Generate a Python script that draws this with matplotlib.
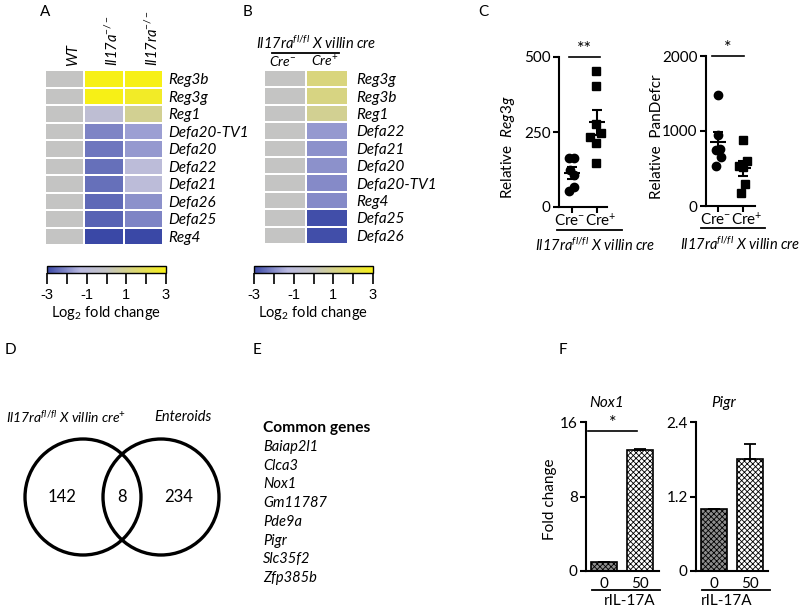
import numpy as np
import matplotlib
matplotlib.use('Agg')
import matplotlib.pyplot as plt
from matplotlib.colors import LinearSegmentedColormap
from matplotlib.patches import Circle
from matplotlib.lines import Line2D

plt.rcParams['font.family'] = ['Lato', 'DejaVu Sans']
plt.rcParams['mathtext.fontset'] = 'custom'
plt.rcParams['mathtext.rm'] = 'Lato'
plt.rcParams['mathtext.it'] = 'Lato:italic'
plt.rcParams['mathtext.bf'] = 'Lato:bold'
plt.rcParams['hatch.linewidth'] = 0.6

# ---- data ----
# A: log2 fold change heatmap
genes_a = ['Reg3b', 'Reg3g', 'Reg1', 'Defa20-TV1', 'Defa20', 'Defa22', 'Defa21', 'Defa26', 'Defa25', 'Reg4']
cols_a = ['WT', r'Il17a$^{-/-}$', r'Il17ra$^{-/-}$']
wt_a = [0, 0, 0, 0, 0, 0, 0, 0, 0, 0]
il17a_a = [3.0, 3.0, -0.7, -2.1, -2.3, -2.4, -2.4, -2.5, -2.6, -3.0]
il17ra_a = [3.0, 2.7, 0.9, -1.7, -1.8, -1.0, -1.0, -1.9, -2.1, -3.0]

# B: log2 fold change heatmap
genes_b = ['Reg3g', 'Reg3b', 'Reg1', 'Defa22', 'Defa21', 'Defa20', 'Defa20-TV1', 'Reg4', 'Defa25', 'Defa26']
cols_b = [r'Cre$^{-}$', r'Cre$^{+}$']
creneg_b = [0, 0, 0, 0, 0, 0, 0, 0, 0, 0]
crepos_b = [1.3, 1.2, 0.9, -1.8, -1.9, -1.9, -2.0, -2.0, -2.9, -2.9]

# C: relative expression, individual mice
reg3g_neg = [165, 162, 125, 106, 67, 54]
reg3g_pos = [454, 404, 277, 246, 232, 212, 147]
pandef_neg = [1483, 953, 742, 755, 652, 540]
pandef_pos = [876, 598, 540, 517, 292, 180]
geno_ticks = [r'Cre$^{-}$', r'Cre$^{+}$']

# D / E: venn counts and common genes
venn_counts = [142, 8, 234]
venn_sets = [r'Il17ra$^{fl/fl}$ X villin cre$^{+}$', 'Enteroids']
common_genes = ['Baiap2l1', 'Clca3', 'Nox1', 'Gm11787', 'Pde9a', 'Pigr', 'Slc35f2', 'Zfp385b']

# F: fold change bars
dose = ['0', '50']
nox1_mean = [1.0, 13.0]
nox1_err = [0.0, 0.15]
pigr_mean = [1.0, 1.81]
pigr_err = [0.0, 0.24]

# ---- layout helpers (pixel coordinates) ----
W, H = 800, 611
fig = plt.figure(figsize=(W / 100, H / 100), dpi=100)


def px_axes(x0, y0, x1, y1):
    return fig.add_axes([x0 / W, 1 - y1 / H, (x1 - x0) / W, (y1 - y0) / H])


def ftxt(x, y, s, **kw):
    kw.setdefault('ha', 'center')
    kw.setdefault('va', 'center')
    fig.text(x / W, 1 - y / H, s, **kw)


def fline(x0, x1, y, lw=1.3):
    fig.add_artist(Line2D([x0 / W, x1 / W], [1 - y / H, 1 - y / H], color='black', lw=lw))


cmap = LinearSegmentedColormap.from_list('bgy', [
    (0.0, '#3a48a6'), (0.28, '#b9b9e0'), (0.5, '#c4c4c4'),
    (0.75, '#dcd872'), (1.0, '#f7f016')])


def heatmap(box, cols, genes, label_x):
    ax = px_axes(*box)
    mat = np.array(cols).T
    m = ax.pcolormesh(np.arange(mat.shape[1] + 1), np.arange(mat.shape[0] + 1), mat,
                      cmap=cmap, vmin=-3, vmax=3, edgecolors='white', linewidth=1.2)
    ax.set_xlim(0, mat.shape[1])
    ax.set_ylim(mat.shape[0], 0)
    for s in ax.spines.values():
        s.set_visible(False)
    ax.set_xticks([])
    ax.yaxis.tick_right()
    ax.set_yticks(np.arange(len(genes)) + 0.5)
    ax.set_yticklabels(genes, fontstyle='italic', fontsize=11)
    ax.tick_params(axis='y', length=0, pad=label_x)
    return ax, m


def colorbar(m, box, label_xy):
    cax = px_axes(*box)
    cb = fig.colorbar(m, cax=cax, orientation='horizontal', ticks=range(-3, 4))
    cb.outline.set_linewidth(1.0)
    cax.set_xticklabels(['-3', '', '-1', '', '1', '', '3'], family='Liberation Sans')
    cax.tick_params(length=8, width=1.2, labelsize=10.5, pad=3)
    ftxt(label_xy[0], label_xy[1], r'Log$_2$ fold change', fontsize=10.5)


# ---- panel A ----
ftxt(45, 12, 'A', fontsize=11)
axA, mA = heatmap((45, 70, 163, 245), [wt_a, il17a_a, il17ra_a], genes_a, 4)
for i, c in enumerate(cols_a):
    axA.text(i + 0.72, -0.25, c, rotation=90, ha='center', va='bottom',
             fontstyle='italic', fontsize=10.5)
colorbar(mA, (47, 266, 166, 273), (106, 313))

# ---- panel B ----
ftxt(247, 12, 'B', fontsize=11)
axB, mB = heatmap((264, 70, 348, 244), [creneg_b, crepos_b], genes_b, 6)
for i, c in enumerate(cols_b):
    axB.text(i + 0.45, -0.5, c, ha='center', va='center', fontstyle='italic', fontsize=10)
ftxt(316, 43, r'Il17ra$^{fl/fl}$ X villin cre', fontstyle='italic', fontsize=10.5)
fline(272, 339, 53)
colorbar(mB, (254, 266, 373, 273), (313, 313))


# ---- panel C ----
def style_axes(ax):
    for s in ['top', 'right']:
        ax.spines[s].set_visible(False)
    for s in ['left', 'bottom']:
        ax.spines[s].set_linewidth(1.5)
    ax.tick_params(direction='out', length=4, width=1.5, labelsize=11, pad=2)


def dotplot(ax, groups, offsets, markers):
    for gi, (vals, offs, mk) in enumerate(zip(groups, offsets, markers)):
        vals = np.array(vals, dtype=float)
        ax.plot(gi + np.array(offs), vals, mk, color='black', ms=6, clip_on=False)
        mean = vals.mean()
        sem = vals.std(ddof=1) / np.sqrt(len(vals))
        ax.hlines(mean, gi - 0.33, gi + 0.33, color='black', lw=1.5)
        ax.errorbar(gi, mean, yerr=sem, fmt='none', ecolor='black', elinewidth=1.5,
                    capsize=3.5, capthick=1.5)
    ax.set_xticks([0, 1])
    ax.set_xticklabels([])
    for gi, (lab, dx) in enumerate(zip(geno_ticks, [-0.1, 0.15])):
        ax.text(gi + dx, -0.09, lab, transform=ax.get_xaxis_transform(),
                ha='center', va='center', fontsize=11)


ftxt(483, 12, 'C', fontsize=11)
axC1 = px_axes(559, 57, 607, 207)
style_axes(axC1)
dotplot(axC1, [reg3g_neg, reg3g_pos],
        [[0.09, -0.11, -0.08, 0.09, 0.09, -0.11], [-0.04, -0.04, -0.04, 0.16, -0.28, -0.04, -0.04]],
        ['o', 's'])
axC1.set_xlim(-0.52, 1.4)
axC1.set_ylim(0, 500)
axC1.set_yticks([0, 250, 500])
axC1.set_ylabel(r'Relative  $\mathit{Reg3g}$', fontsize=11)
axC1.yaxis.set_label_coords(-0.88, 0.4)
axC1.plot([-0.12, 1.12], [500, 500], color='black', lw=1.2, clip_on=False)
axC1.text(0.5, 500, '**', ha='center', va='bottom', fontsize=13)
fline(557, 622, 230)
ftxt(595, 245, r'Il17ra$^{fl/fl}$ X villin cre', fontstyle='italic', fontsize=10.5)

axC2 = px_axes(706, 56, 755, 206)
style_axes(axC2)
dotplot(axC2, [pandef_neg, pandef_pos],
        [[0.0, 0.0, -0.09, 0.08, 0.1, -0.08], [0.0, 0.17, -0.16, 0.0, 0.08, -0.09]],
        ['o', 's'])
axC2.set_xlim(-0.48, 1.48)
axC2.set_ylim(0, 2000)
axC2.set_yticks([0, 1000, 2000])
axC2.set_ylabel('Relative  PanDefcr', fontsize=11)
axC2.yaxis.set_label_coords(-0.86, 0.46)
axC2.plot([-0.24, 1.04], [2000, 2000], color='black', lw=1.2, clip_on=False)
axC2.text(0.4, 2000, '*', ha='center', va='bottom', fontsize=13)
fline(701, 765, 228)
ftxt(740, 244, r'Il17ra$^{fl/fl}$ X villin cre', fontstyle='italic', fontsize=10.5)

# ---- panel D ----
ftxt(10, 350, 'D', fontsize=11)
axD = px_axes(0, 380, 260, 611)
axD.set_xlim(0, 260)
axD.set_ylim(611, 380)
axD.axis('off')
venn_r = 58
venn_cx = [83, 161]
venn_cy = 497
for cx in venn_cx:
    axD.add_patch(Circle((cx, venn_cy), venn_r, fill=False, lw=2.4, color='black'))
for x, n in zip([62, 122, 179], venn_counts):
    axD.text(x, venn_cy, str(n), ha='center', va='center', fontsize=12)
ftxt(66, 417, venn_sets[0], fontstyle='italic', fontsize=10)
ftxt(183, 417, venn_sets[1], fontstyle='italic', fontsize=10.5)

# ---- panel E ----
ftxt(257, 350, 'E', fontsize=11)
ftxt(263, 428, 'Common genes', ha='left', fontweight='bold', fontsize=11.2)
for i, g in enumerate(common_genes):
    ftxt(263, 447 + i * 18.7, g, ha='left', fontstyle='italic', fontsize=10.5)


# ---- panel F ----
def barplot(ax, means, errs):
    ax.bar([0, 1], means, width=0.71, color=['#8e8e8e', 'white'], edgecolor='black',
           hatch='xxxxxx', linewidth=1.2, zorder=2)
    ax.errorbar([0, 1], means, yerr=[np.zeros(len(errs)), errs], fmt='none', ecolor='black',
                elinewidth=1.3, capsize=4.5, capthick=1.3, zorder=3)
    ax.set_xticks([0, 1])
    ax.set_xticklabels(dose)
    ax.tick_params(axis='x', length=0, pad=4)


ftxt(563, 350, 'F', fontsize=11)
axF1 = px_axes(586, 422, 659, 571)
style_axes(axF1)
barplot(axF1, nox1_mean, nox1_err)
axF1.set_xlim(-0.49, 1.51)
axF1.set_ylim(0, 16)
axF1.set_yticks([0, 8, 16])
axF1.set_ylabel('Fold change', fontsize=11)
axF1.yaxis.set_label_coords(-0.4, 0.48)
axF1.plot([-0.44, 0.9], [15, 15], color='black', lw=1.2, clip_on=False)
axF1.text(0.25, 15.0, '*', ha='center', va='bottom', fontsize=13)
ftxt(607, 403, 'Nox1', fontstyle='italic', fontsize=11)
fline(592, 660, 590)
ftxt(630, 601, 'rIL-17A', fontsize=11)

axF2 = px_axes(696, 422, 768, 571)
style_axes(axF2)
barplot(axF2, pigr_mean, pigr_err)
axF2.set_xlim(-0.49, 1.48)
axF2.set_ylim(0, 2.4)
axF2.set_yticks([0, 1.2, 2.4])
axF2.set_yticklabels(['0', '1.2', '2.4'])
ftxt(724, 403, 'Pigr', fontstyle='italic', fontsize=11)
fline(702, 770, 590)
ftxt(727, 601, 'rIL-17A', fontsize=11)

fig.savefig('out.png', dpi=100)
